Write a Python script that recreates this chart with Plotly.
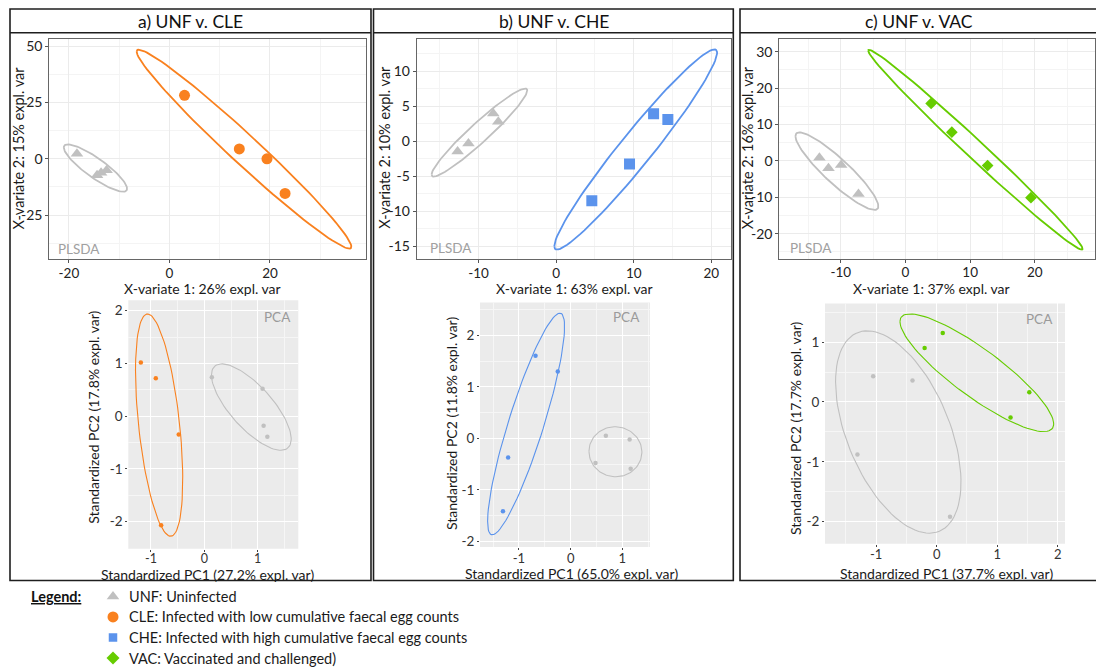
import numpy as np
import plotly.graph_objects as go

W, H = 1096, 671
FONT = "Lato"

# ---------------- PLS-DA component scores (X-variate 1, X-variate 2) ----------------
a_unf_x = [-18.4, -14.4, -13.6, -12.5]
a_unf_y = [2.2, -7.3, -6.2, -5.1]
a_cle_x = [3.0, 13.9, 19.4, 23.0]
a_cle_y = [28.2, 4.4, 0.0, -15.4]

b_unf_x = [-12.7, -11.3, -8.1, -7.45]
b_unf_y = [-1.48, -0.34, 3.98, 2.79]
b_che_x = [4.6, 9.46, 12.56, 14.4]
b_che_y = [-8.5, -3.27, 3.92, 3.12]

c_unf_x = [-13.3, -11.9, -9.94, -7.26]
c_unf_y = [0.9, -2.0, -1.1, -9.1]
c_vac_x = [3.97, 7.17, 12.7, 19.4]
c_vac_y = [15.8, 7.9, -1.28, -10.1]

# ---------------- PCA standardized scores (PC1, PC2) ----------------
pa_unf_x = [0.14, 1.09, 1.11, 1.18]
pa_unf_y = [0.74, 0.52, -0.18, -0.39]
pa_cle_x = [-1.19, -0.91, -0.48, -0.81]
pa_cle_y = [1.02, 0.72, -0.35, -2.07]

pb_unf_x = [0.68, 1.14, 0.48, 1.16]
pb_unf_y = [0.05, -0.02, -0.48, -0.59]
pb_che_x = [-0.68, -0.25, -1.21, -1.31]
pb_che_y = [1.61, 1.30, -0.37, -1.42]

pc_unf_x = [-1.05, -0.40, -1.31, 0.22]
pc_unf_y = [0.43, 0.36, -0.88, -1.92]
pc_vac_x = [-0.20, 0.10, 1.53, 1.22]
pc_vac_y = [0.90, 1.15, 0.16, -0.26]

# ---------------- tick values ----------------
ta_xticks = [-20, 0, 20]
ta_yticks = [-25, 0, 25, 50]
tb_xticks = [-10, 0, 10, 20]
tb_yticks = [-15, -10, -5, 0, 5, 10]
tc_xticks = [-10, 0, 10, 20]
tc_yticks = [-20, -10, 0, 10, 20, 30]
pa_xticks = [-1, 0, 1]
pa_yticks = [-2, -1, 0, 1, 2]
pb_xticks = [-1, 0, 1]
pb_yticks = [-2, -1, 0, 1, 2]
pc_xticks = [-1, 0, 1, 2]
pc_yticks = [-2, -1, 0, 1]

# ---------------- text ----------------
panel_titles = ["a) UNF v. CLE", "b) UNF v. CHE", "c) UNF v. VAC"]
plsda_x_titles = ["X-variate 1: 26% expl. var", "X-variate 1: 63% expl. var", "X-variate 1: 37% expl. var"]
plsda_y_titles = ["X-variate 2: 15% expl. var", "X-variate 2: 10% expl. var", "X-variate 2: 16% expl. var"]
pca_x_titles = ["Standardized PC1 (27.2% expl. var)", "Standardized PC1 (65.0% expl. var)",
                "Standardized PC1 (37.7% expl. var)"]
pca_y_titles = ["Standardized PC2 (17.8% expl. var)", "Standardized PC2 (11.8% expl. var)",
                "Standardized PC2 (17.7% expl. var)"]

groups = ["UNF", "CLE", "CHE", "VAC"]
group_labels = ["UNF: Uninfected",
                "CLE: Infected with low cumulative faecal egg counts",
                "CHE: Infected with high cumulative faecal egg counts",
                "VAC: Vaccinated and challenged)"]

COL = {"UNF": "#C0C0C0", "CLE": "#F9811F", "CHE": "#5B93EC", "VAC": "#66CC00"}
SYM = {"UNF": "triangle-up", "CLE": "circle", "CHE": "square", "VAC": "diamond"}
SIZE = {"UNF": 11, "CLE": 11, "CHE": 11, "VAC": 9}
LEG_SIZE = {"UNF": 11, "CLE": 11, "CHE": 8.5, "VAC": 10}


def fx(px):
    return px / W


def fy(py):
    return 1 - py / H


def conf_ellipse(xs, ys, level, n=100):
    """Normal-theory confidence ellipse from the sample covariance."""
    pts = np.column_stack([xs, ys])
    mu = pts.mean(axis=0)
    cov = np.cov(pts, rowvar=False)
    r = np.sqrt(-2.0 * np.log(1.0 - level))  # sqrt(qchisq(level, 2))
    t = np.linspace(-np.pi, np.pi, n)
    circ = np.column_stack([np.cos(t), np.sin(t)])
    e = circ @ np.linalg.cholesky(cov).T * r + mu
    return e[:, 0], e[:, 1]


fig = go.Figure()

plsda_sets = [
    ("", [("UNF", a_unf_x, a_unf_y), ("CLE", a_cle_x, a_cle_y)]),
    ("2", [("UNF", b_unf_x, b_unf_y), ("CHE", b_che_x, b_che_y)]),
    ("3", [("UNF", c_unf_x, c_unf_y), ("VAC", c_vac_x, c_vac_y)]),
]
pca_sets = [
    ("4", [("UNF", pa_unf_x, pa_unf_y), ("CLE", pa_cle_x, pa_cle_y)]),
    ("5", [("UNF", pb_unf_x, pb_unf_y), ("CHE", pb_che_x, pb_che_y)]),
    ("6", [("UNF", pc_unf_x, pc_unf_y), ("VAC", pc_vac_x, pc_vac_y)]),
]

for ax, sets in plsda_sets:
    for g, xs, ys in sets:
        ex, ey = conf_ellipse(xs, ys, 0.95)
        fig.add_trace(go.Scatter(x=ex, y=ey, mode="lines", line=dict(color=COL[g], width=1.8),
                                 xaxis="x" + ax, yaxis="y" + ax, showlegend=False, hoverinfo="skip"))
    for g, xs, ys in sets:
        fig.add_trace(go.Scatter(x=xs, y=ys, mode="markers",
                                 marker=dict(symbol=SYM[g], size=SIZE[g], color=COL[g], line=dict(width=0)),
                                 xaxis="x" + ax, yaxis="y" + ax, showlegend=False, name=g))

for ax, sets in pca_sets:
    for g, xs, ys in sets:
        ex, ey = conf_ellipse(xs, ys, 0.68)
        fig.add_trace(go.Scatter(x=ex, y=ey, mode="lines", line=dict(color=COL[g], width=1.1),
                                 xaxis="x" + ax, yaxis="y" + ax, showlegend=False, hoverinfo="skip"))
        fig.add_trace(go.Scatter(x=xs, y=ys, mode="markers",
                                 marker=dict(symbol="circle", size=4.5, color=COL[g], line=dict(width=0)),
                                 xaxis="x" + ax, yaxis="y" + ax, showlegend=False, name=g))

# legend key symbols
for i, g in enumerate(groups):
    fig.add_trace(go.Scatter(x=[0], y=[i], mode="markers",
                             marker=dict(symbol=SYM[g], size=LEG_SIZE[g], color=COL[g], line=dict(width=0)),
                             xaxis="x7", yaxis="y7", showlegend=False, hoverinfo="skip"))


def plsda_axis(dom, rng, ticks, minor, standoff=0, size=14):
    return dict(domain=dom, range=rng, tickmode="array", tickvals=ticks, ticktext=[str(v) for v in ticks],
                showgrid=True, gridcolor="#EBEBEB", gridwidth=1,
                minor=dict(tickmode="linear", tick0=0, dtick=minor, showgrid=True, gridcolor="#F4F4F4",
                           gridwidth=1, ticks=""),
                zeroline=False, showline=True, mirror=True, linecolor="#666", linewidth=1,
                ticks="outside", ticklen=3, tickcolor="#555", ticklabelstandoff=standoff,
                tickfont=dict(family=FONT, size=size, color="#222"), fixedrange=True)


def pca_axis(dom, rng, ticks, standoff=0, size=13.5):
    return dict(domain=dom, range=rng, tickmode="array", tickvals=ticks, ticktext=[str(v) for v in ticks],
                showgrid=True, gridcolor="#FFFFFF", gridwidth=1.2,
                minor=dict(tickmode="linear", tick0=0, dtick=0.5, showgrid=True, gridcolor="#F6F6F6",
                           gridwidth=0.8, ticks=""),
                zeroline=False, showline=False, ticks="outside", ticklen=2, tickcolor="#444",
                ticklabelstandoff=standoff,
                tickfont=dict(family=FONT, size=size, color="#333"), fixedrange=True)


# plot areas in pixels: (left, top, right, bottom)
boxes = {
    "": (49.3, 37.0, 366.0, 259.0),
    "2": (416.7, 37.3, 730.7, 259.0),
    "3": (779.3, 37.3, 1095.0, 258.3),
    "4": (128.3, 300.0, 298.3, 550.0),
    "5": (480.0, 302.3, 650.0, 548.3),
    "6": (825.0, 303.3, 1065.0, 545.0),
}


def xdom(k):
    l, t, r, b = boxes[k]
    return [fx(l), fx(r)]


def ydom(k):
    l, t, r, b = boxes[k]
    return [fy(b), fy(t)]


layout = dict(
    width=W, height=H, margin=dict(l=0, r=0, t=0, b=0),
    paper_bgcolor="white", plot_bgcolor="white",
    font=dict(family=FONT, size=13, color="#222"),
    xaxis=plsda_axis(xdom(""), [-23.9, 39.1], ta_xticks, 10, -2, 13.5),
    yaxis=plsda_axis(ydom(""), [-44.7, 53.3], ta_yticks, 12.5),
    xaxis2=plsda_axis(xdom("2"), [-17.97, 22.5], tb_xticks, 5, -2, 13.5),
    yaxis2=plsda_axis(ydom("2"), [-16.9, 14.6], tb_yticks, 2.5),
    xaxis3=plsda_axis(xdom("3"), [-19.5, 29.3], tc_xticks, 5, -2, 13.5),
    yaxis3=plsda_axis(ydom("3"), [-26.9, 33.5], tc_yticks, 5),
    xaxis4=pca_axis(xdom("4"), [-1.425, 1.76], pa_xticks, -4, 12.5),
    yaxis4=pca_axis(ydom("4"), [-2.515, 2.2], pa_yticks),
    xaxis5=pca_axis(xdom("5"), [-1.754, 1.534], pb_xticks, -3, 13),
    yaxis5=pca_axis(ydom("5"), [-2.114, 2.644], pb_yticks),
    xaxis6=pca_axis(xdom("6"), [-1.846, 2.12], pc_xticks, -3, 13),
    yaxis6=pca_axis(ydom("6"), [-2.37, 1.645], pc_yticks),
    xaxis7=dict(domain=[fx(104), fx(122)], range=[-1, 1], visible=False, fixedrange=True),
    yaxis7=dict(domain=[fy(670), fy(588)], range=[3.484, -0.484], visible=False, fixedrange=True),
)
for i in ["", "2", "3", "4", "5", "6"]:
    layout["yaxis" + i]["anchor"] = "x" + i
    layout["xaxis" + i]["anchor"] = "y" + i
layout["xaxis7"]["anchor"] = "y7"
layout["yaxis7"]["anchor"] = "x7"
fig.update_layout(**layout)

shapes = []
# grey panel backgrounds for the PCA plots
for k in ["4", "5", "6"]:
    shapes.append(dict(type="rect", xref="x%s domain" % k, yref="y%s domain" % k, x0=0, x1=1, y0=0, y1=1,
                       fillcolor="#EBEBEB", line=dict(width=0), layer="below"))

# panel frames and title bars
frames = [(10, 371), (373.5, 733.3), (740, 1100)]
for x0, x1 in frames:
    shapes.append(dict(type="rect", xref="paper", yref="paper", x0=fx(x0), x1=fx(x1), y0=fy(582), y1=fy(7),
                       line=dict(color="#1E1E1E", width=1.6), fillcolor="rgba(0,0,0,0)"))
    shapes.append(dict(type="line", xref="paper", yref="paper", x0=fx(x0), x1=fx(x1), y0=fy(31), y1=fy(31),
                       line=dict(color="#1E1E1E", width=1.6)))
fig.update_layout(shapes=shapes)

ann = []


def text(s, x, y, size=14.5, color="#1A1A1A", xanchor="center", angle=0):
    ann.append(dict(text=s, x=fx(x), y=fy(y), xref="paper", yref="paper", showarrow=False,
                    xanchor=xanchor, yanchor="middle", textangle=angle,
                    font=dict(family=FONT, size=size, color=color)))


title_x = [190, 553.5, 919]
for s, x in zip(panel_titles, title_x):
    text(s, x, 19.5, size=17.5, color="#111")

for s, (x, y) in zip(plsda_x_titles, [(202, 288.5), (574, 288.5), (931, 288.5)]):
    text(s, x, y, size=14)
for s, (x, y) in zip(plsda_y_titles, [(19, 147.5), (385, 146.7), (748.3, 146.7)]):
    text(s, x, y, angle=-90)
for s, (x, y) in zip(pca_x_titles, [(207.5, 575.5), (571.5, 574.5), (946, 574.5)]):
    text(s, x, y, size=14)
for s, (x, y) in zip(pca_y_titles, [(94, 418.3), (451.5, 424), (795.5, 429)]):
    text(s, x, y, size=14, angle=-90)

for x, y in [(56, 248.3), (428, 247.3), (788, 247.3)]:
    text("PLSDA", x, y, size=13.5, color="#A0A0A0", xanchor="left")
for x, y in [(293.3, 316.7), (641.7, 316.7), (1055, 319)]:
    text("PCA", x, y, size=13.5, color="#9A9A9A", xanchor="right")

# legend text
text("<b><u>Legend:</u></b>", 29.3, 598, size=14.5, xanchor="left", color="#111")
for i, s in enumerate(group_labels):
    ann.append(dict(text=s, x=fx(127), y=i, xref="paper", yref="y7", showarrow=False,
                    xanchor="left", yanchor="middle", font=dict(family=FONT, size=14.5, color="#1A1A1A")))

fig.update_layout(annotations=ann)

fig.write_html("out.html")
